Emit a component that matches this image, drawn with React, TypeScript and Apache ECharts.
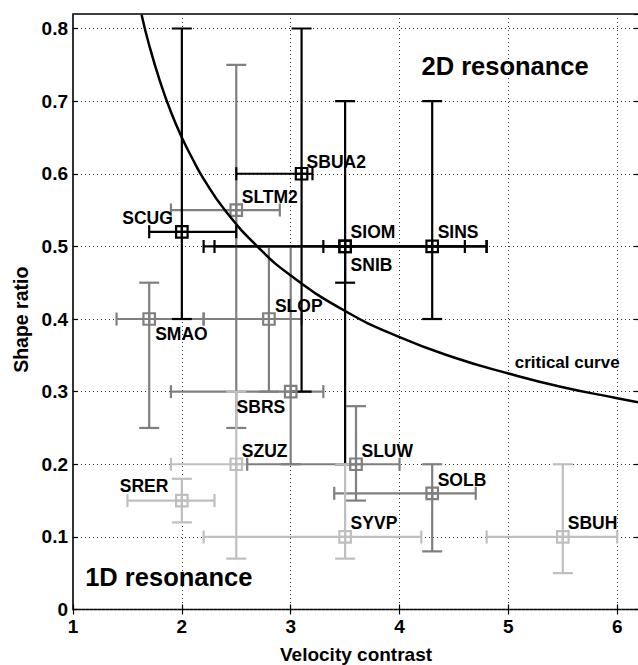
import React, { useEffect, useRef } from "react";
import * as echarts from "echarts";

// Stations, drawn in this order (later ones on top)
const stations = ["SNIB", "SLTM2", "SMAO", "SLOP", "SBRS", "SZUZ", "SLUW", "SOLB", "SRER", "SYVP", "SBUH", "SCUG", "SBUA2", "SIOM", "SINS"];
const velocity = [3.5, 2.5, 1.7, 2.8, 3.0, 2.5, 3.6, 4.3, 2.0, 3.5, 5.5, 2.0, 3.1, 3.5, 4.3];
const shapeRatio = [0.5, 0.55, 0.4, 0.4, 0.3, 0.2, 0.2, 0.16, 0.15, 0.1, 0.1, 0.52, 0.6, 0.5, 0.5];
const velocityLow = [2.2, 1.9, 1.4, 2.2, 1.9, 1.9, 2.6, 3.4, 1.5, 2.2, 4.8, 1.7, 2.5, 2.3, 3.3];
const velocityHigh = [4.8, 2.9, 2.2, 3.1, 3.3, 2.6, 4.0, 4.7, 2.3, 4.2, 6.0, 2.5, 3.2, 4.6, 4.8];
const shapeLow = [0.2, 0.25, 0.25, 0.3, 0.2, 0.07, 0.15, 0.08, 0.12, 0.07, 0.05, 0.4, 0.3, 0.45, 0.4];
const shapeHigh = [0.5, 0.75, 0.45, 0.5, 0.5, 0.3, 0.28, 0.2, 0.18, 0.2, 0.2, 0.8, 0.8, 0.7, 0.7];
// 0 = black, 1 = dark grey, 2 = light grey
const shade = [0, 1, 1, 1, 1, 2, 1, 1, 2, 2, 2, 0, 0, 0, 0];

// Critical curve
const criticalX = [1.63, 1.7, 1.8, 1.9, 2.0, 2.1, 2.2, 2.4, 2.7, 3.0, 3.5, 4.0, 4.5, 5.0, 5.5, 6.0, 6.2];
const criticalY = [0.819, 0.777, 0.727, 0.685, 0.65, 0.62, 0.593, 0.549, 0.499, 0.46, 0.411, 0.375, 0.347, 0.325, 0.306, 0.291, 0.285];

// Annotations (data coordinates)
const annotationText = ["2D resonance", "1D resonance", "critical curve"];
const annotationX = [4.97, 1.88, 5.54];
const annotationY = [0.749, 0.045, 0.34];

const xTicks = [1, 2, 3, 4, 5, 6];
const yTicks = [0, 0.1, 0.2, 0.3, 0.4, 0.5, 0.6, 0.7, 0.8];

// styling
const shadeColors = ["#000000", "#7f7f7f", "#bfbfbf"];
const FONT = "'Liberation Sans', Arial, Helvetica, sans-serif";
const labelPlacement: Record<string, [string, number, number]> = {
  SCUG: ["right", -9, -14],
  SBUA2: ["left", 5, -12],
  SLTM2: ["left", 5.5, -13],
  SIOM: ["left", 5.5, -14.5],
  SNIB: ["left", 5.5, 18.5],
  SINS: ["left", 5.5, -14.5],
  SLOP: ["left", 6, -13.5],
  SMAO: ["left", 6, 15],
  SBRS: ["right", -5.5, 15.5],
  SZUZ: ["left", 5.5, -13.5],
  SRER: ["right", -13.5, -14.5],
  SLUW: ["left", 5.5, -13.5],
  SOLB: ["left", 5.5, -13],
  SYVP: ["left", 5.5, -13.5],
  SBUH: ["left", 5, -13.5],
};
const annotationFont = [25.5, 25.5, 17];

export default function App() {
  const ref = useRef<HTMLDivElement>(null);
  useEffect(() => {
    if (!ref.current) return;
    const chart = echarts.init(ref.current, undefined, { renderer: "svg" });

    const errData = stations.map((_, i) => [
      velocity[i], shapeRatio[i], velocityLow[i], velocityHigh[i], shapeLow[i], shapeHigh[i], shade[i],
    ]);

    const markerPath = "path://M0,0H10V10H0Z M5,0V10 M0,5H10";
    const pointData = stations.map((name, i) => {
      const [align, dx, dy] = labelPlacement[name];
      return {
        name,
        value: [velocity[i], shapeRatio[i]],
        itemStyle: { color: "rgba(0,0,0,0)", borderColor: shadeColors[shade[i]], borderWidth: 2.2, opacity: 1 },
        label: {
          show: true,
          position: "inside",
          align,
          verticalAlign: "middle",
          offset: [dx, dy],
          formatter: name,
          color: "#000",
          opacity: 1,
          textBorderWidth: 0,
          textBorderColor: "transparent",
          fontFamily: FONT,
          fontWeight: "bold",
          fontSize: 17.5,
        },
      };
    });

    const annData = annotationText.map((t, i) => ({
      name: t,
      value: [annotationX[i], annotationY[i]],
      itemStyle: { opacity: 1 },
      label: {
        show: true,
        position: "inside",
        formatter: t,
        color: "#000",
        opacity: 1,
        textBorderWidth: 0,
        textBorderColor: "transparent",
        fontFamily: FONT,
        fontWeight: "bold",
        fontSize: annotationFont[i],
      },
    }));

    const axisTickStyle = { show: true, inside: true, length: 5, lineStyle: { color: "#000", width: 1.2 } };
    const splitStyle = { show: true, lineStyle: { color: "#333", width: 1, type: [1, 3] as any } };

    chart.setOption({
      animation: false,
      backgroundColor: "#fff",
      grid: {
        left: 73, right: -1, top: 14, bottom: 55.5,
        containLabel: false,
        outerBoundsMode: "none",
        show: true, borderColor: "#000", borderWidth: 1.6, backgroundColor: "transparent",
      },
      xAxis: [
        {
          type: "value", min: xTicks[0], max: 6.2, interval: 1, position: "bottom",
          axisLine: { show: false },
          axisTick: axisTickStyle,
          splitLine: splitStyle,
          axisLabel: {
            showMaxLabel: false, margin: 7, color: "#000", fontFamily: FONT, fontWeight: "bold", fontSize: 19,
            formatter: (v: number) => (xTicks.includes(v) ? String(v) : ""),
          },
          name: "Velocity contrast", nameLocation: "middle", nameGap: 35,
          nameTextStyle: { color: "#000", fontFamily: FONT, fontWeight: "bold", fontSize: 19 },
        },
        {
          type: "value", min: xTicks[0], max: 6.2, interval: 1, position: "top",
          axisLine: { show: false }, axisTick: axisTickStyle, splitLine: { show: false }, axisLabel: { show: false },
        },
      ],
      yAxis: [
        {
          type: "value", min: yTicks[0], max: 0.82, interval: 0.1, position: "left",
          axisLine: { show: false },
          axisTick: axisTickStyle,
          splitLine: splitStyle,
          axisLabel: {
            showMaxLabel: false, margin: 5, color: "#000", fontFamily: FONT, fontWeight: "bold", fontSize: 19,
            formatter: (v: number) => {
              const t = yTicks.find((k) => Math.abs(k - v) < 1e-6);
              return t === undefined ? "" : t === 0 ? "0" : t.toFixed(1);
            },
          },
          name: "Shape ratio", nameLocation: "middle", nameGap: 42, nameRotate: 90,
          nameTextStyle: { color: "#000", fontFamily: FONT, fontWeight: "bold", fontSize: 19.5, padding: [0, 16, 0, 0] },
        },
        {
          type: "value", min: yTicks[0], max: 0.82, interval: 0.1, position: "right",
          axisLine: { show: false }, axisTick: axisTickStyle, splitLine: { show: false }, axisLabel: { show: false },
        },
      ],
      series: [
        {
          type: "custom",
          xAxisIndex: 0, yAxisIndex: 0,
          encode: { x: 0, y: 1 },
          data: errData,
          clip: true,
          z: 2,
          renderItem: (params: any, api: any) => {
            const x = api.value(0), y = api.value(1);
            const xl = api.value(2), xh = api.value(3), yl = api.value(4), yh = api.value(5);
            const color = shadeColors[api.value(6)];
            const pL = api.coord([xl, y]);
            const pH = api.coord([xh, y]);
            const qL = api.coord([x, yl]);
            const qH = api.coord([x, yh]);
            const style = { stroke: color, lineWidth: 2.2, fill: "none" };
            const hc = 6.5, vc = 10;
            const line = (x1: number, y1: number, x2: number, y2: number) => ({
              type: "line", shape: { x1, y1, x2, y2 }, style,
            });
            return {
              type: "group",
              children: [
                line(pL[0], pL[1], pH[0], pH[1]),
                line(pL[0], pL[1] - hc, pL[0], pL[1] + hc),
                line(pH[0], pH[1] - hc, pH[0], pH[1] + hc),
                line(qL[0], qL[1], qH[0], qH[1]),
                line(qL[0] - vc, qL[1], qL[0] + vc, qL[1]),
                line(qH[0] - vc, qH[1], qH[0] + vc, qH[1]),
              ],
            };
          },
        },
        {
          type: "scatter",
          symbol: markerPath,
          symbolSize: 11.5,
          z: 3,
          itemStyle: { opacity: 1 },
          data: pointData,
        },
        {
          type: "line",
          data: criticalX.map((x, i) => [x, criticalY[i]]),
          showSymbol: false,
          symbol: "none",
          smooth: true,
          clip: true,
          z: 4,
          lineStyle: { color: "#000", width: 2.5 },
        },
        {
          type: "scatter",
          symbolSize: 0,
          z: 5,
          itemStyle: { opacity: 1 },
          data: annData,
        },
      ],
    });
    return () => chart.dispose();
  }, []);
  return (
    <div
      ref={ref}
      style={{ position: "fixed", left: 0, top: 0, width: 638, height: 665, background: "#fff" }}
    />
  );
}
